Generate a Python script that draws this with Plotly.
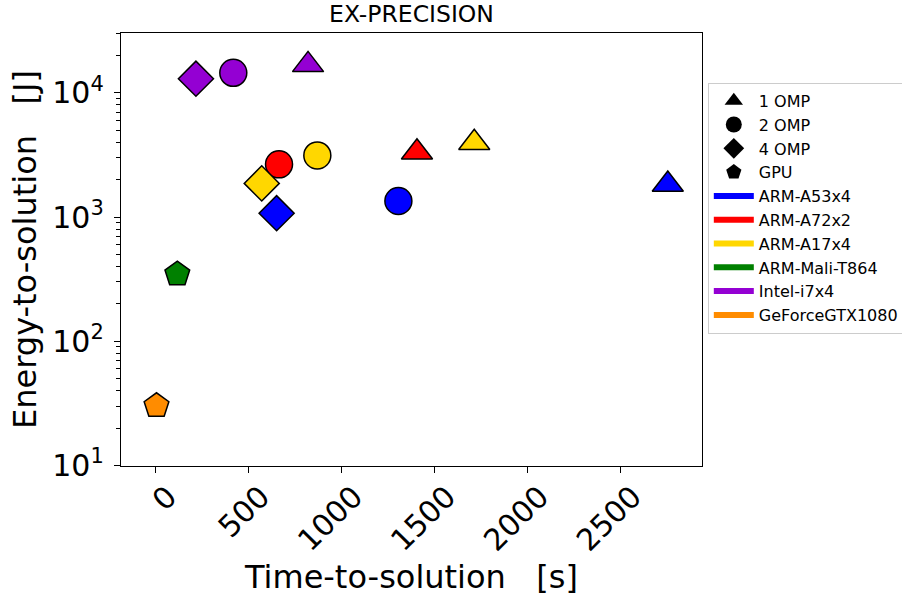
import plotly.graph_objects as go

# ---- data ----
devices = ["ARM-A53x4", "ARM-A72x2", "ARM-A17x4", "ARM-Mali-T864", "Intel-i7x4", "GeForceGTX1080"]
colors = ["#0000ff", "#ff0000", "#ffd700", "#008000", "#9400d3", "#ff8c00"]

configs = ["1 OMP", "2 OMP", "4 OMP", "GPU"]
symbols = ["triangle-up", "circle", "diamond", "pentagon"]

# 1 OMP
omp1_dev = ["ARM-A53x4", "ARM-A72x2", "ARM-A17x4", "Intel-i7x4"]
omp1_time = [2753, 1404, 1712, 818]
omp1_energy = [1827, 3324, 3965, 16800]
# 2 OMP
omp2_dev = ["ARM-A53x4", "ARM-A72x2", "ARM-A17x4", "Intel-i7x4"]
omp2_time = [1304, 662, 868, 416]
omp2_energy = [1346, 2655, 3135, 14500]
# 4 OMP
omp4_dev = ["ARM-A53x4", "ARM-A17x4", "Intel-i7x4"]
omp4_time = [649, 569, 215]
omp4_energy = [1073, 1866, 13000]
# GPU
gpu_dev = ["ARM-Mali-T864", "GeForceGTX1080"]
gpu_time = [115, 3]
gpu_energy = [347, 30.2]

x_ticks = [0, 500, 1000, 1500, 2000, 2500]
x_ticklabels = ["0", "500", "1000", "1500", "2000", "2500"]
y_ticks = [10, 100, 1000, 10000]
y_ticklabels = ["10<sup>1</sup>", "10<sup>2</sup>", "10<sup>3</sup>", "10<sup>4</sup>"]

title = "EX-PRECISION"
x_title = "Time-to-solution   [s]"
y_title = "Energy-to-solution   [J]"

# ---- figure ----
color_of = dict(zip(devices, colors))
FONT = "DejaVu Sans"
sizes = {"triangle-up": 27, "circle": 27, "diamond": 27, "pentagon": 26}

groups = [
    (omp1_dev, omp1_time, omp1_energy, "triangle-up"),
    (omp2_dev, omp2_time, omp2_energy, "circle"),
    (omp4_dev, omp4_time, omp4_energy, "diamond"),
    (gpu_dev, gpu_time, gpu_energy, "pentagon"),
]

fig = go.Figure()
for dev, t, e, sym in groups:
    fig.add_trace(go.Scatter(
        x=t, y=e, mode="markers", showlegend=False,
        marker=dict(symbol=sym, size=sizes[sym],
                    color=[color_of[d] for d in dev],
                    line=dict(color="black", width=1.5)),
    ))

# legend entries: shapes
for name, sym in zip(configs, symbols):
    fig.add_trace(go.Scatter(
        x=[None], y=[None], mode="markers", name=name,
        marker=dict(symbol=sym, size=16, color="black"),
    ))
# legend entries: colours
for name, col in zip(devices, colors):
    fig.add_trace(go.Scatter(
        x=[None], y=[None], mode="lines", name=name,
        line=dict(color=col, width=6),
    ))

fig.update_layout(
    width=902, height=599,
    margin=dict(l=121, r=200, t=33, b=133, autoexpand=False),
    paper_bgcolor="white", plot_bgcolor="white",
    font=dict(family=FONT, color="black"),
    title=dict(text=title, x=0.4562, xanchor="center", y=0.977, yanchor="middle",
               font=dict(size=23.5, family=FONT)),
    legend=dict(x=1.01, y=0.885, xanchor="left", yanchor="top",
                bgcolor="white", bordercolor="#cccccc", borderwidth=1,
                font=dict(size=16, family=FONT), tracegroupgap=0,
                itemwidth=40),
)

fig.update_xaxes(
    range=[-188, 2937], automargin=False,
    tickmode="array", tickvals=x_ticks, ticktext=x_ticklabels,
    tickangle=-45, tickfont=dict(size=30, family=FONT),
    ticklabelshift=12, ticklabelstandoff=-6,
    ticks="outside", ticklen=6, tickwidth=1.2, tickcolor="black",
    showline=True, linecolor="black", linewidth=1.3, mirror=True,
    showgrid=False, zeroline=False,
    title=dict(text=x_title, font=dict(size=32, family=FONT), standoff=4),
)
fig.update_yaxes(
    type="log", range=[0.995, 4.482], automargin=False,
    tickmode="array", tickvals=y_ticks, ticktext=y_ticklabels,
    tickfont=dict(size=30, family=FONT), ticklabelstandoff=4,
    ticks="outside", ticklen=6, tickwidth=1.2, tickcolor="black",
    minor=dict(ticks="outside", ticklen=3.5, tickwidth=1, tickcolor="black",
               tickvals=[m * 10 ** k for k in range(1, 5) for m in range(2, 10)],
               showgrid=False),
    showline=True, linecolor="black", linewidth=1.3, mirror=True,
    showgrid=False, zeroline=False,
    title=dict(text=y_title, font=dict(size=32, family=FONT), standoff=6),
)

fig.write_html("out.html", config={"displayModeBar": False},
               post_script="document.body.style.margin='0px';")
